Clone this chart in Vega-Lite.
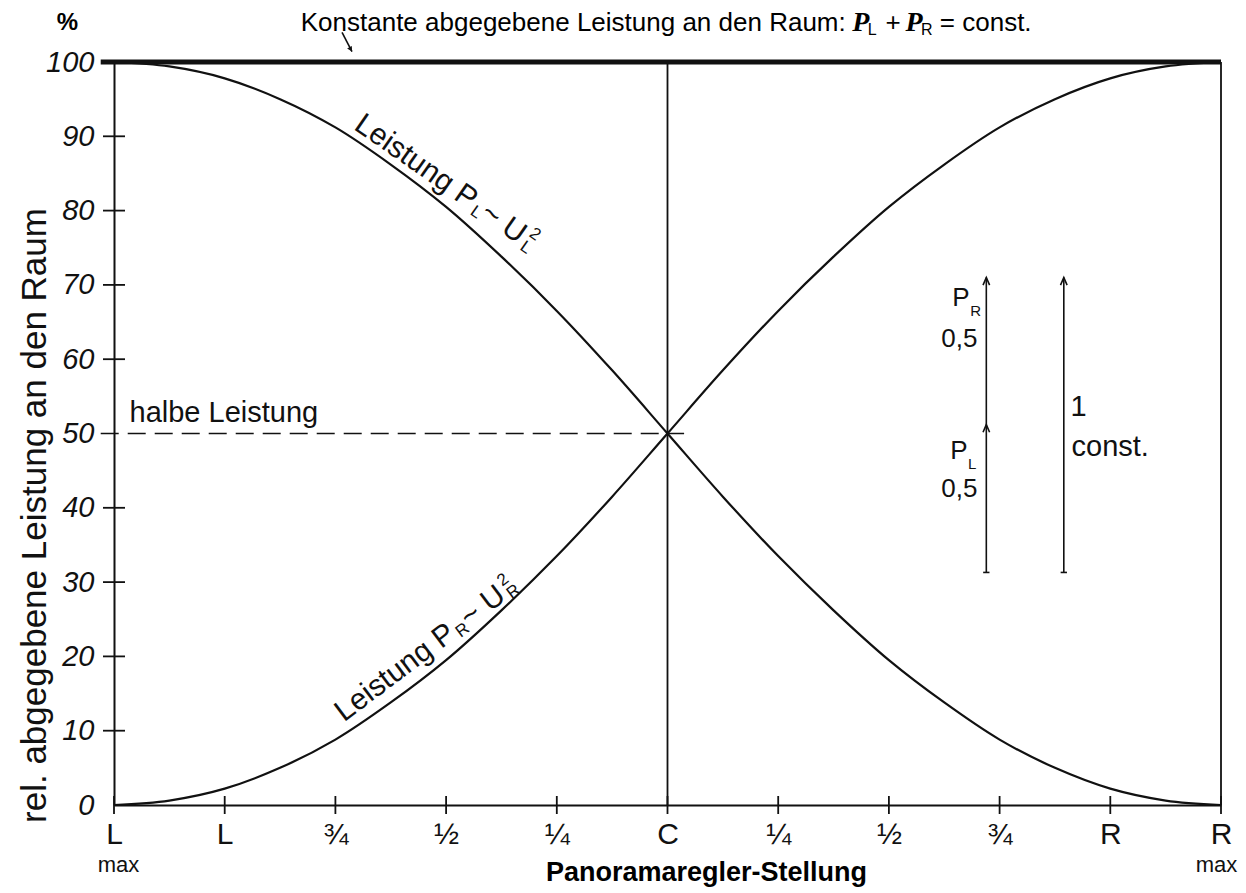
{
  "$schema": "https://vega.github.io/schema/vega-lite/v6.json",
  "width": 1107,
  "height": 743,
  "autosize": {"type": "none"},
  "padding": {"left": 114, "top": 62, "right": 25, "bottom": 88},
  "background": "white",
  "config": {"view": {"stroke": null}, "font": "Liberation Sans"},
  "encoding": {
    "x": {
      "field": "pos", "type": "quantitative",
      "scale": {"domain": [0, 10], "nice": false, "zero": false},
      "axis": {
        "title": "Panoramaregler-Stellung",
        "values": [0, 1, 2, 3, 4, 5, 6, 7, 8, 9, 10],
        "labelExpr": "['L','L','¾','½','¼','C','¼','½','¾','R','R'][datum.value]",
        "labelFontSize": 30, "labelColor": "#111", "labelPadding": 14,
        "labelFlush": false, "labelOverlap": false,
        "ticks": false,
        "domainColor": "#111", "domainWidth": 2, "grid": false,
        "titleFontSize": 27, "titleFontWeight": "bold", "titleColor": "#000",
        "titleX": 592, "titleY": 67, "titleBaseline": "middle", "titleAlign": "center"
      }
    },
    "y": {
      "field": "value", "type": "quantitative",
      "scale": {"domain": [0, 100], "nice": false, "zero": false},
      "axis": {
        "title": "rel. abgegebene Leistung an den Raum",
        "values": [0, 10, 20, 30, 40, 50, 60, 70, 80, 90, 100],
        "labelFontSize": 29, "labelFontStyle": "italic", "labelColor": "#111", "labelPadding": 20,
        "labelFlush": false, "labelOverlap": false,
        "ticks": false,
        "domainColor": "#111", "domainWidth": 2, "grid": false,
        "titleFontSize": 35, "titleFontWeight": "normal", "titleColor": "#111",
        "titleX": -80, "titleY": 453, "titleAngle": -90, "titleAlign": "center", "titleBaseline": "middle"
      }
    }
  },
  "layer": [
    {
      "data": {"values": [
        {"series": "PL", "pos": 0, "value": 100}, {"series": "PL", "pos": 0.5, "value": 99.4},
        {"series": "PL", "pos": 1, "value": 97.8}, {"series": "PL", "pos": 1.5, "value": 95},
        {"series": "PL", "pos": 2, "value": 91.2}, {"series": "PL", "pos": 2.5, "value": 86.2},
        {"series": "PL", "pos": 3, "value": 80.5}, {"series": "PL", "pos": 3.5, "value": 73.8},
        {"series": "PL", "pos": 4, "value": 66.5}, {"series": "PL", "pos": 4.5, "value": 58.5},
        {"series": "PL", "pos": 5, "value": 50}, {"series": "PL", "pos": 5.5, "value": 41.5},
        {"series": "PL", "pos": 6, "value": 33.5}, {"series": "PL", "pos": 6.5, "value": 26.2},
        {"series": "PL", "pos": 7, "value": 19.5}, {"series": "PL", "pos": 7.5, "value": 13.8},
        {"series": "PL", "pos": 8, "value": 8.8}, {"series": "PL", "pos": 8.5, "value": 5},
        {"series": "PL", "pos": 9, "value": 2.2}, {"series": "PL", "pos": 9.5, "value": 0.6},
        {"series": "PL", "pos": 10, "value": 0},
        {"series": "PR", "pos": 0, "value": 0}, {"series": "PR", "pos": 0.5, "value": 0.6},
        {"series": "PR", "pos": 1, "value": 2.2}, {"series": "PR", "pos": 1.5, "value": 5},
        {"series": "PR", "pos": 2, "value": 8.8}, {"series": "PR", "pos": 2.5, "value": 13.8},
        {"series": "PR", "pos": 3, "value": 19.5}, {"series": "PR", "pos": 3.5, "value": 26.2},
        {"series": "PR", "pos": 4, "value": 33.5}, {"series": "PR", "pos": 4.5, "value": 41.5},
        {"series": "PR", "pos": 5, "value": 50}, {"series": "PR", "pos": 5.5, "value": 58.5},
        {"series": "PR", "pos": 6, "value": 66.5}, {"series": "PR", "pos": 6.5, "value": 73.8},
        {"series": "PR", "pos": 7, "value": 80.5}, {"series": "PR", "pos": 7.5, "value": 86.2},
        {"series": "PR", "pos": 8, "value": 91.2}, {"series": "PR", "pos": 8.5, "value": 95},
        {"series": "PR", "pos": 9, "value": 97.8}, {"series": "PR", "pos": 9.5, "value": 99.4},
        {"series": "PR", "pos": 10, "value": 100}
      ]},
      "mark": {"type": "line", "color": "#111", "strokeWidth": 2.2, "interpolate": "catmull-rom"},
      "encoding": {"detail": {"field": "series"}}
    },
    {
      "data": {"values": [{"pos": -0.12, "value": 100}, {"pos": 10, "value": 100}]},
      "mark": {"type": "line", "color": "#111", "strokeWidth": 5},
      "encoding": {}
    },
    {
      "data": {"values": [{"pos": 5, "value": 0, "value2": 100}, {"pos": 10, "value": 0, "value2": 100}]},
      "mark": {"type": "rule", "color": "#111", "strokeWidth": 1.8},
      "encoding": {"y2": {"field": "value2"}}
    },
    {
      "data": {"values": [
        {"pos": 0, "value": 0}, {"pos": 1, "value": 0}, {"pos": 2, "value": 0}, {"pos": 3, "value": 0},
        {"pos": 4, "value": 0}, {"pos": 5, "value": 0}, {"pos": 6, "value": 0}, {"pos": 7, "value": 0},
        {"pos": 8, "value": 0}, {"pos": 9, "value": 0}, {"pos": 10, "value": 0}
      ]},
      "mark": {"type": "tick", "orient": "vertical", "size": 18, "thickness": 1.8, "color": "#111", "opacity": 1},
      "encoding": {}
    },
    {
      "data": {"values": [
        {"pos": 0, "value": 10}, {"pos": 0, "value": 20}, {"pos": 0, "value": 30}, {"pos": 0, "value": 40},
        {"pos": 0, "value": 60}, {"pos": 0, "value": 70}, {"pos": 0, "value": 80}, {"pos": 0, "value": 90}
      ]},
      "mark": {"type": "tick", "orient": "horizontal", "size": 22, "thickness": 1.8, "color": "#111", "opacity": 1},
      "encoding": {}
    },
    {
      "data": {"values": [{"pos": -0.12, "pos2": 5.15, "value": 50}]},
      "mark": {"type": "rule", "color": "#111", "strokeWidth": 1.6, "strokeDash": [18, 9]},
      "encoding": {"x2": {"field": "pos2"}}
    },
    {
      "data": {"values": [{"pos": 7.88, "value": 31.3, "value2": 71}, {"pos": 8.58, "value": 31.3, "value2": 71}]},
      "mark": {"type": "rule", "color": "#111", "strokeWidth": 1.6},
      "encoding": {"y2": {"field": "value2"}}
    },
    {
      "data": {"values": [{"pos": 7.88, "value": 71}, {"pos": 7.88, "value": 51.2}, {"pos": 8.58, "value": 71}]},
      "mark": {"type": "point", "shape": "M-0.6,1.4L0,0L0.6,1.4", "size": 120, "filled": false, "color": "#111", "strokeWidth": 1.6, "opacity": 1},
      "encoding": {}
    },
    {
      "data": {"values": [{"pos": 7.88, "value": 31.3}, {"pos": 8.58, "value": 31.3}]},
      "mark": {"type": "point", "shape": "M-1,0L1,0", "size": 40, "filled": false, "color": "#111", "strokeWidth": 1.6, "opacity": 1},
      "encoding": {}
    },
    {
      "data": {"values": [{"pos": 2.06, "value": 104, "pos2": 2.15, "value2": 101.4}]},
      "mark": {"type": "rule", "color": "#111", "strokeWidth": 1.6},
      "encoding": {"x2": {"field": "pos2"}, "y2": {"field": "value2"}}
    },
    {
      "data": {"values": [{"pos": 2.15, "value": 101.4}]},
      "mark": {"type": "point", "shape": "M-0.7,-1.3L0,0L0.7,-1.3Z", "size": 60, "filled": true, "color": "#111", "angle": -30, "opacity": 1},
      "encoding": {}
    },
    {
      "data": {"values": [
        {"pos": 0.14, "value": 52.8, "t": "halbe Leistung"},
        {"pos": 8.64, "value": 53.6, "t": "1"},
        {"pos": 8.65, "value": 48.2, "t": "const."}
      ]},
      "mark": {"type": "text", "align": "left", "baseline": "middle", "fontSize": 29, "color": "#111"},
      "encoding": {"text": {"field": "t"}}
    },
    {
      "data": {"values": [
        {"pos": 7.73, "value": 68.3, "t": "P"},
        {"pos": 7.8, "value": 62.7, "t": "0,5"},
        {"pos": 7.71, "value": 47.6, "t": "P"},
        {"pos": 7.8, "value": 42.5, "t": "0,5"}
      ]},
      "mark": {"type": "text", "align": "right", "baseline": "middle", "fontSize": 26, "color": "#111"},
      "encoding": {"text": {"field": "t"}}
    },
    {
      "data": {"values": [
        {"pos": 7.735, "value": 66.5, "t": "R"},
        {"pos": 7.715, "value": 45.9, "t": "L"}
      ]},
      "mark": {"type": "text", "align": "left", "baseline": "middle", "fontSize": 15, "color": "#111"},
      "encoding": {"text": {"field": "t"}}
    },
    {
      "data": {"values": [
        {"pos": 2.204, "value": 92.05, "t": "Leistung P"},
        {"pos": 3.343, "value": 80.13, "t": " ~ U"}
      ]},
      "mark": {"type": "text", "align": "left", "baseline": "middle", "fontSize": 30, "angle": 35, "color": "#111"},
      "encoding": {"text": {"field": "t"}}
    },
    {
      "data": {"values": [
        {"pos": 3.234, "value": 80.13, "t": "L"},
        {"pos": 3.684, "value": 75.39, "t": "L"},
        {"pos": 3.767, "value": 77.16, "t": "2"}
      ]},
      "mark": {"type": "text", "align": "left", "baseline": "middle", "fontSize": 17, "angle": 35, "color": "#111"},
      "encoding": {"text": {"field": "t"}}
    },
    {
      "data": {"values": [
        {"pos": 2.028, "value": 12.08, "t": "Leistung P"},
        {"pos": 3.161, "value": 24.81, "t": " ~ U"}
      ]},
      "mark": {"type": "text", "align": "left", "baseline": "middle", "fontSize": 30, "angle": -37, "color": "#111"},
      "encoding": {"text": {"field": "t"}}
    },
    {
      "data": {"values": [
        {"pos": 3.105, "value": 23.0, "t": "R"},
        {"pos": 3.566, "value": 28.2, "t": "R"},
        {"pos": 3.48, "value": 29.92, "t": "2"}
      ]},
      "mark": {"type": "text", "align": "left", "baseline": "middle", "fontSize": 17, "angle": -37, "color": "#111"},
      "encoding": {"text": {"field": "t"}}
    },
    {
      "data": {"values": [{"pos": 0.04, "value": -8.1, "t": "max"}, {"pos": 9.96, "value": -8.1, "t": "max"}]},
      "mark": {"type": "text", "align": "center", "baseline": "middle", "fontSize": 22, "color": "#111"},
      "encoding": {"text": {"field": "t"}}
    },
    {
      "data": {"values": [
        {"pos": 6.61, "value": 105.2, "t": "Konstante abgegebene Leistung an den Raum:"}
      ]},
      "mark": {"type": "text", "align": "right", "baseline": "middle", "fontSize": 26, "color": "#000"},
      "encoding": {"text": {"field": "t"}}
    },
    {
      "data": {"values": [
        {"pos": 6.97, "value": 105.2, "t": "+"},
        {"pos": 7.46, "value": 105.2, "t": "= const."}
      ]},
      "mark": {"type": "text", "align": "left", "baseline": "middle", "fontSize": 26, "color": "#000"},
      "encoding": {"text": {"field": "t"}}
    },
    {
      "data": {"values": [{"pos": 6.67, "value": 105.2, "t": "P"}, {"pos": 7.15, "value": 105.2, "t": "P"}]},
      "mark": {"type": "text", "align": "left", "baseline": "middle", "fontSize": 28, "font": "Liberation Serif", "fontStyle": "italic", "fontWeight": "bold", "color": "#000"},
      "encoding": {"text": {"field": "t"}}
    },
    {
      "data": {"values": [{"pos": 6.81, "value": 104.3, "t": "L"}, {"pos": 7.29, "value": 104.3, "t": "R"}]},
      "mark": {"type": "text", "align": "left", "baseline": "middle", "fontSize": 16, "color": "#000"},
      "encoding": {"text": {"field": "t"}}
    },
    {
      "data": {"values": [{"pos": -0.42, "value": 105.2, "t": "%"}]},
      "mark": {"type": "text", "align": "center", "baseline": "middle", "fontSize": 24, "fontWeight": "bold", "color": "#000"},
      "encoding": {"text": {"field": "t"}}
    }
  ]
}
